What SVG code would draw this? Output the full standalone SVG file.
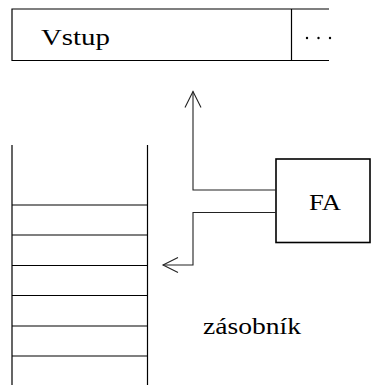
<svg xmlns="http://www.w3.org/2000/svg" width="371" height="385" viewBox="0 0 371 385">
<style>
  .t { font-family: "Liberation Serif", "DejaVu Serif", serif; font-size: 24px; fill: #000; }
  .ln { stroke: #000; stroke-width: 1.2; fill: none; }
  .conn { stroke: #222; stroke-width: 1.1; fill: none; }
</style>
<rect width="371" height="385" fill="#fff"/>
<g id="vstup">
  <path class="ln" d="M329 9 H12 V60.5 H329 M291.5 9 V60.5"/>
  <text class="t" x="41" y="44.5" textLength="69" lengthAdjust="spacingAndGlyphs">Vstup</text>
  <circle cx="307" cy="38" r="1.2" fill="#000"/>
  <circle cx="318.5" cy="38" r="1.2" fill="#000"/>
  <circle cx="330" cy="38" r="1.2" fill="#000"/>
</g>
<g id="zasobnik">
  <path class="ln" d="M12 145 V385 M147.5 145 V385 M12 205 H147.5 M12 235 H147.5 M12 265.5 H147.5 M12 295.5 H147.5 M12 326 H147.5 M12 356 H147.5"/>
  <text class="t" x="203" y="334" textLength="98" lengthAdjust="spacingAndGlyphs">zásobník</text>
</g>
<g id="fa">
  <rect x="276" y="159" width="94" height="83.5" fill="none" stroke="#000" stroke-width="1.6"/>
  <text class="t" x="309" y="209.5" textLength="32" lengthAdjust="spacingAndGlyphs">FA</text>
</g>
<g id="connectors">
  <path class="conn" d="M276 190 H193 V91.5"/>
  <path class="conn" d="M185 107.5 L193 91.5 L201 107.5"/>
  <path class="conn" d="M276 212.5 H193 V265 H163"/>
  <path class="conn" d="M178 257.5 L163 265 L178 272.5"/>
</g>
</svg>
